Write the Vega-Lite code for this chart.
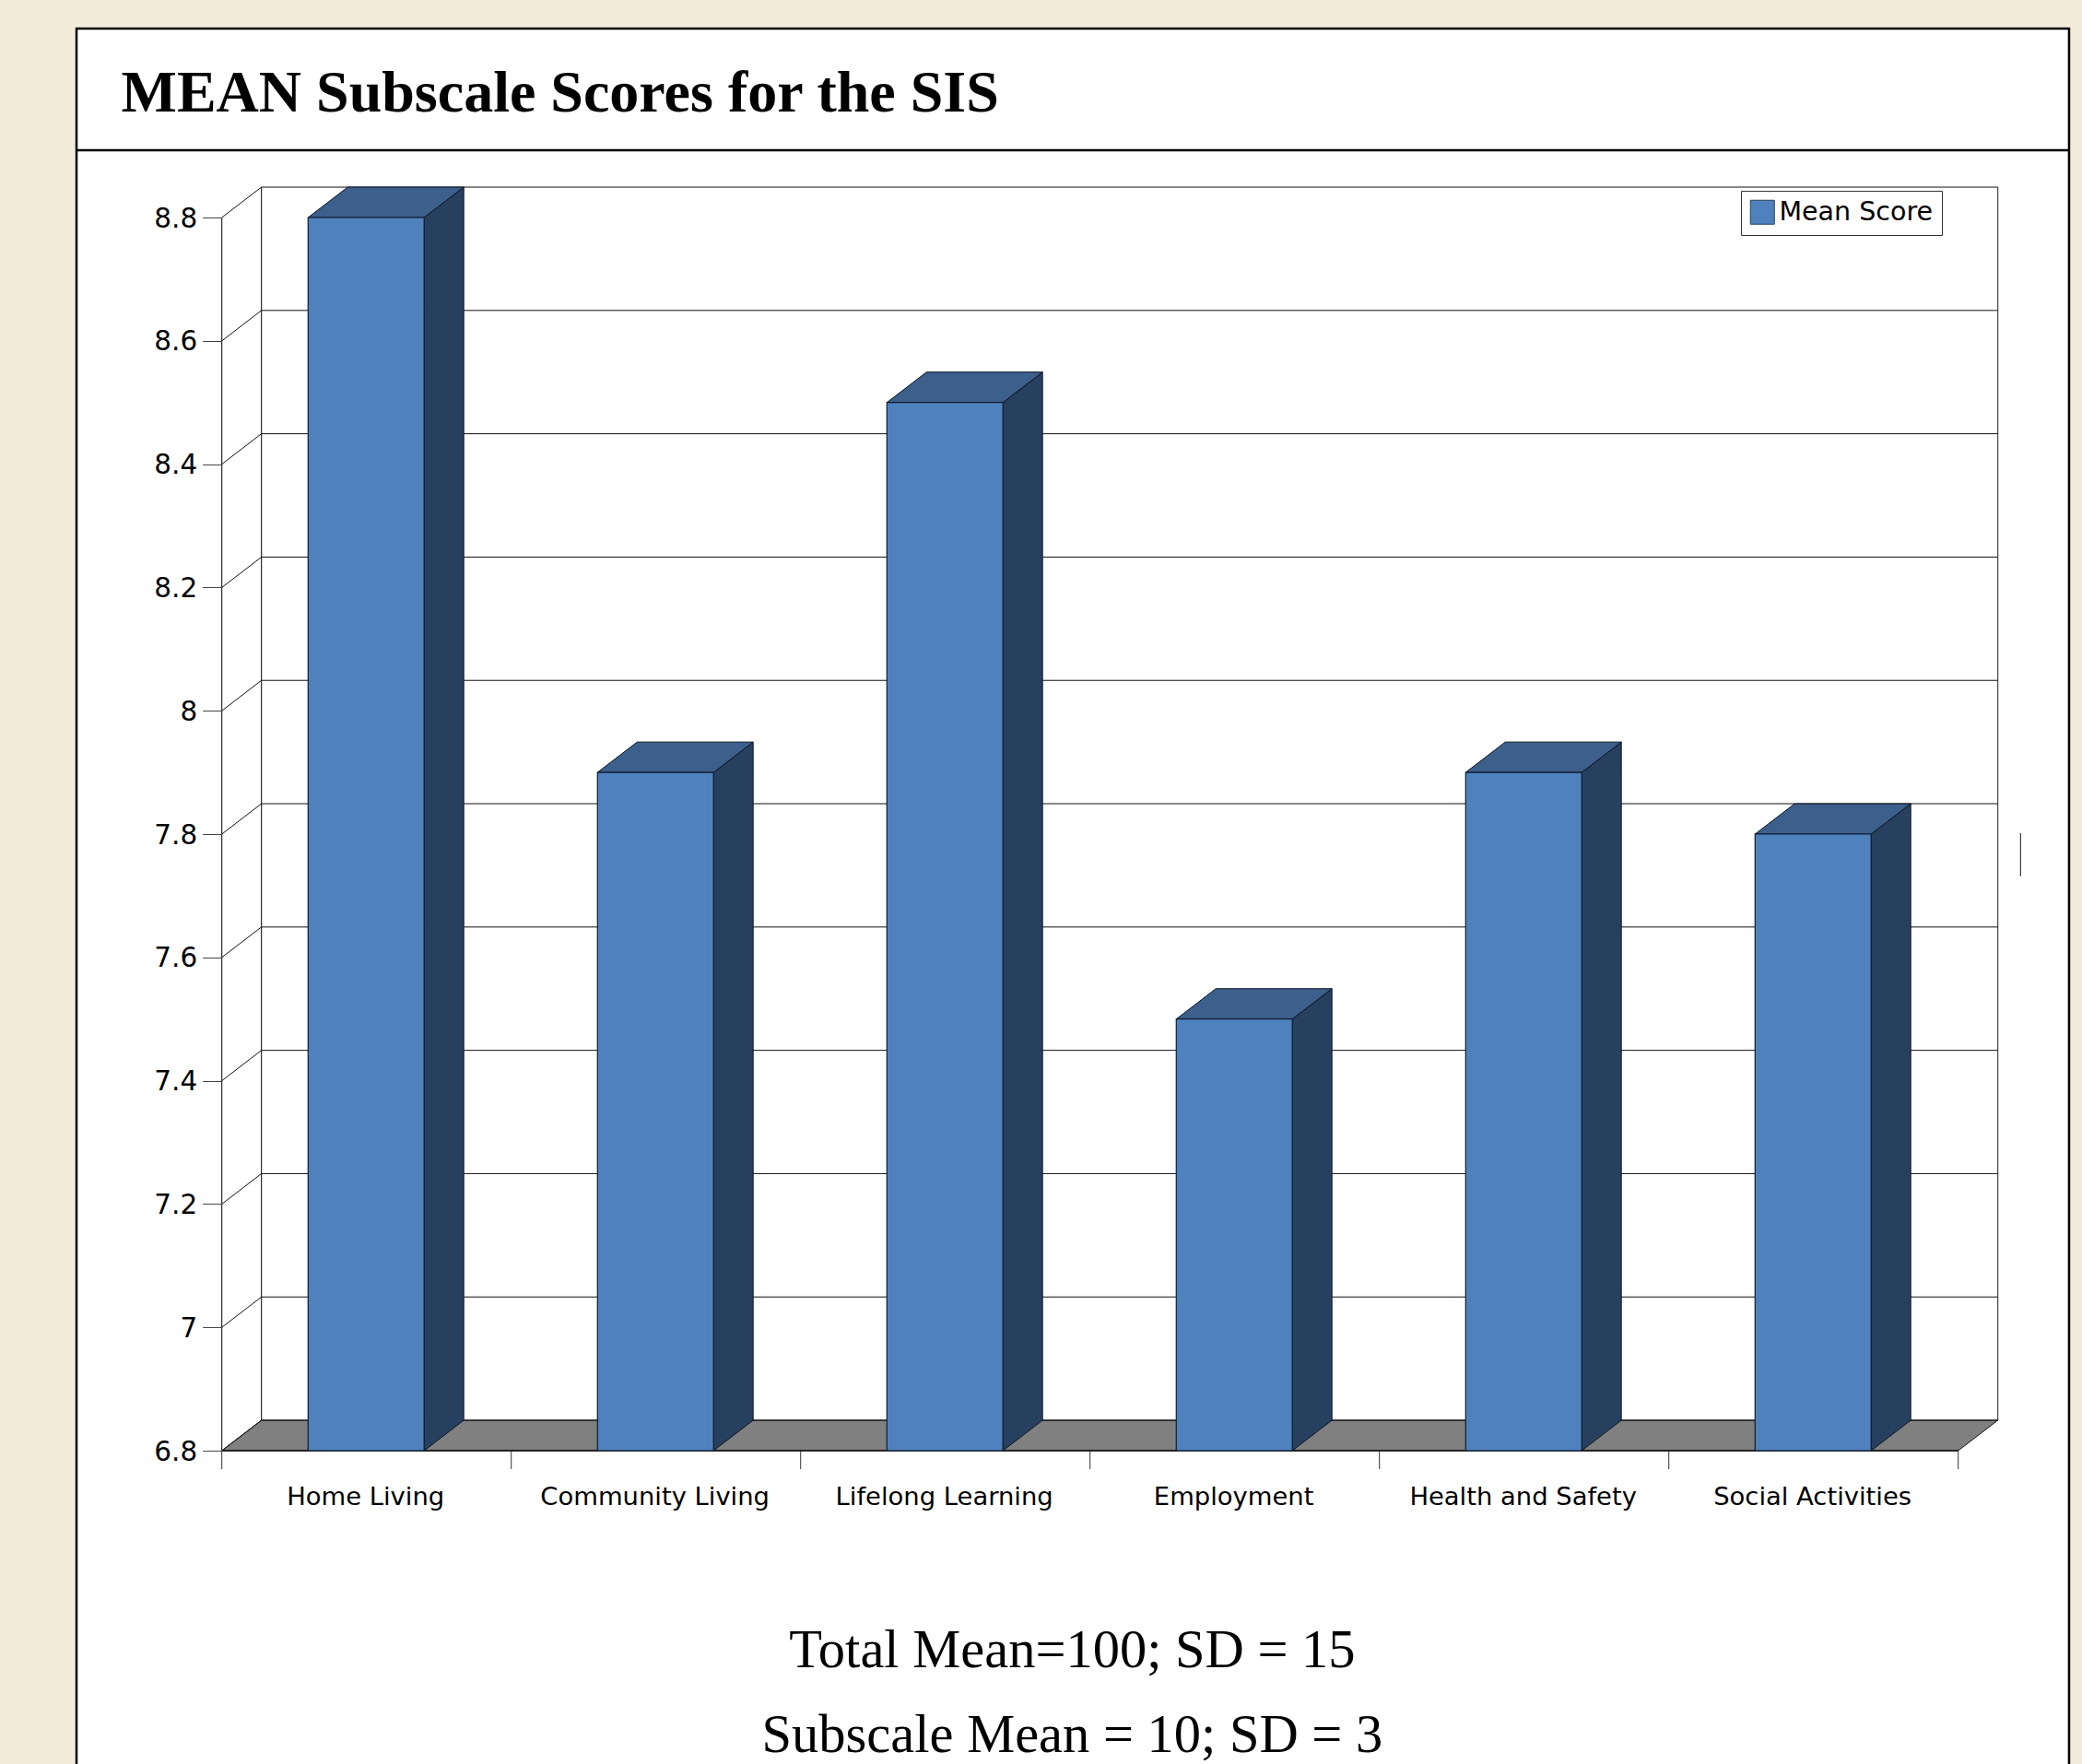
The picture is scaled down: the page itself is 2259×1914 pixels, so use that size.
{
"$schema":"https://vega.github.io/schema/vega-lite/v6.json",
"width":2259,"height":1914,"autosize":{"type":"none"},"padding":0,
"background":"#f3ecdb",
"title":{"text":"MEAN Subscale Scores for the SIS","anchor":"start","frame":"group","offset":-121.7,"dy":63,"dx":131.5,"font":"Liberation Serif","fontSize":64,"fontWeight":"bold","color":"#000000","baseline":"alphabetic"},
"config":{"view":{"stroke":null}},
"datasets":{
"bars":[
{"category":"Home Living","idx":0,"value":8.8,"series":"Mean Score"},
{"category":"Community Living","idx":1,"value":7.9,"series":"Mean Score"},
{"category":"Lifelong Learning","idx":2,"value":8.5,"series":"Mean Score"},
{"category":"Employment","idx":3,"value":7.5,"series":"Mean Score"},
{"category":"Health and Safety","idx":4,"value":7.9,"series":"Mean Score"},
{"category":"Social Activities","idx":5,"value":7.8,"series":"Mean Score"}],
"yticks":[{"tick":6.8},{"tick":7},{"tick":7.2},{"tick":7.4},{"tick":7.6},{"tick":7.8},{"tick":8},{"tick":8.2},{"tick":8.4},{"tick":8.6},{"tick":8.8}],
"xticks":[{"tick":0},{"tick":1},{"tick":2},{"tick":3},{"tick":4},{"tick":5},{"tick":6}],
"depth":[{"t":0},{"t":1}],
"one":[{}],
"notes":[{"line":"Total Mean=100; SD = 15","px":2.9385,"py":6.4482},{"line":"Subscale Mean = 10; SD = 3","px":2.9385,"py":6.3107}]
},
"layer":[
{"data":{"name":"one"},"mark":{"type":"rect","fill":"#ffffff","stroke":"#000000","strokeWidth":2.5,"clip":true},
 "encoding":{"x":{"datum":-0.5022,"type":"quantitative","scale":{"domain":[-0.7666,6.4277],"nice":false,"zero":false}},"x2":{"datum":6.383},
 "y":{"datum":9.1064,"type":"quantitative","scale":{"domain":[6.2918,9.1528],"nice":false,"zero":false}},"y2":{"datum":6.0}}},
{"data":{"name":"one"},"mark":{"type":"rule","stroke":"#000000","strokeWidth":2.5},
 "encoding":{"x":{"datum":-0.5022,"type":"quantitative","scale":{"domain":[-0.7666,6.4277],"nice":false,"zero":false}},"x2":{"datum":6.383},
 "y":{"datum":8.9091,"type":"quantitative","scale":{"domain":[6.2918,9.1528],"nice":false,"zero":false}}}},
{"data":{"name":"depth"},
 "transform":[{"calculate":"datum.t*0.1369","as":"xa"},{"calculate":"6+datum.t*0.1369","as":"xb"},{"calculate":"6.8+datum.t*0.0493","as":"yf"}],
 "mark":{"type":"area","orient":"horizontal","fill":"#808080","stroke":"#111111","strokeWidth":1},
 "encoding":{"y":{"field":"yf","type":"quantitative","scale":{"domain":[6.2918,9.1528],"nice":false,"zero":false}},
 "x":{"field":"xa","type":"quantitative","scale":{"domain":[-0.7666,6.4277],"nice":false,"zero":false}},"x2":{"field":"xb"}}},
{"data":{"name":"yticks"},
 "transform":[{"calculate":"datum.tick+0.0493","as":"back"}],
 "mark":{"type":"rule","stroke":"#111111","strokeWidth":1},
 "encoding":{"x":{"datum":0.1369,"type":"quantitative","scale":{"domain":[-0.7666,6.4277],"nice":false,"zero":false}},"x2":{"datum":6.1369},
 "y":{"field":"back","type":"quantitative","scale":{"domain":[6.2918,9.1528],"nice":false,"zero":false}}}},
{"data":{"name":"yticks"},
 "transform":[{"calculate":"datum.tick+0.0493","as":"back"}],
 "mark":{"type":"rule","stroke":"#111111","strokeWidth":1},
 "encoding":{"x":{"datum":0,"type":"quantitative","scale":{"domain":[-0.7666,6.4277],"nice":false,"zero":false}},"x2":{"datum":0.1369},
 "y":{"field":"tick","type":"quantitative","scale":{"domain":[6.2918,9.1528],"nice":false,"zero":false}},"y2":{"field":"back"}}},
{"data":{"name":"one"},"mark":{"type":"rule","stroke":"#000000","strokeWidth":1},
 "encoding":{"x":{"datum":0,"type":"quantitative","scale":{"domain":[-0.7666,6.4277],"nice":false,"zero":false}},
 "y":{"datum":6.8,"type":"quantitative","scale":{"domain":[6.2918,9.1528],"nice":false,"zero":false}},"y2":{"datum":8.8}}},
{"data":{"name":"one"},"mark":{"type":"rule","stroke":"#000000","strokeWidth":1},
 "encoding":{"x":{"datum":0.1369,"type":"quantitative","scale":{"domain":[-0.7666,6.4277],"nice":false,"zero":false}},
 "y":{"datum":6.8493,"type":"quantitative","scale":{"domain":[6.2918,9.1528],"nice":false,"zero":false}},"y2":{"datum":8.8493}}},
{"data":{"name":"one"},"mark":{"type":"rule","stroke":"#222222","strokeWidth":1},
 "encoding":{"x":{"datum":6.1369,"type":"quantitative","scale":{"domain":[-0.7666,6.4277],"nice":false,"zero":false}},
 "y":{"datum":6.8493,"type":"quantitative","scale":{"domain":[6.2918,9.1528],"nice":false,"zero":false}},"y2":{"datum":8.8493}}},
{"data":{"name":"xticks"},
 "mark":{"type":"rule","stroke":"#333333","strokeWidth":1},
 "encoding":{"x":{"field":"tick","type":"quantitative","scale":{"domain":[-0.7666,6.4277],"nice":false,"zero":false}},
 "y":{"datum":6.8,"type":"quantitative","scale":{"domain":[6.2918,9.1528],"nice":false,"zero":false}},"y2":{"datum":6.7701}}},
{"data":{"name":"one"},"mark":{"type":"rule","stroke":"#222222","strokeWidth":2},
 "encoding":{"x":{"datum":0,"type":"quantitative","scale":{"domain":[-0.7666,6.4277],"nice":false,"zero":false}},"x2":{"datum":6},
 "y":{"datum":6.8,"type":"quantitative","scale":{"domain":[6.2918,9.1528],"nice":false,"zero":false}}}},
{"data":{"name":"bars"},
 "transform":[{"calculate":"[0,1]","as":"t"},{"flatten":["t"]},{"calculate":"datum.idx+0.699+datum.t*0.1369","as":"xs"},{"calculate":"datum.value+datum.t*0.0493","as":"ytop"},{"calculate":"6.8+datum.t*0.0493","as":"ybase"}],
 "mark":{"type":"area","fill":"#284060","stroke":"#0c1420","strokeWidth":1},
 "encoding":{"x":{"field":"xs","type":"quantitative","scale":{"domain":[-0.7666,6.4277],"nice":false,"zero":false}},
 "y":{"field":"ytop","type":"quantitative","scale":{"domain":[6.2918,9.1528],"nice":false,"zero":false}},"y2":{"field":"ybase"},"detail":{"field":"category"}}},
{"data":{"name":"bars"},
 "transform":[{"calculate":"[0,1]","as":"t"},{"flatten":["t"]},{"calculate":"datum.idx+0.298+datum.t*0.1369","as":"xl"},{"calculate":"datum.idx+0.699+datum.t*0.1369","as":"xr"},{"calculate":"datum.value+datum.t*0.0493","as":"ytop"}],
 "mark":{"type":"area","orient":"horizontal","fill":"#3c5f8c","stroke":"#0c1420","strokeWidth":1},
 "encoding":{"y":{"field":"ytop","type":"quantitative","scale":{"domain":[6.2918,9.1528],"nice":false,"zero":false}},
 "x":{"field":"xl","type":"quantitative","scale":{"domain":[-0.7666,6.4277],"nice":false,"zero":false}},"x2":{"field":"xr"},"detail":{"field":"category"}}},
{"data":{"name":"bars"},
 "transform":[{"calculate":"datum.idx+0.298","as":"xl"},{"calculate":"datum.idx+0.699","as":"xr"},{"calculate":"6.8","as":"base"}],
 "mark":{"type":"rect","stroke":"#0f1c2e","strokeWidth":1.2},
 "encoding":{"x":{"field":"xl","type":"quantitative","scale":{"domain":[-0.7666,6.4277],"nice":false,"zero":false},
   "axis":{"orient":"bottom","title":null,"offset":-340,"zindex":1,"domain":false,"ticks":false,"grid":false,"values":[0.495,1.495,2.495,3.495,4.495,5.495],"labelExpr":"['Home Living','Community Living','Lifelong Learning','Employment','Health and Safety','Social Activities'][floor(datum.value)]","labelFont":"DejaVu Sans","labelFontSize":27.4,"labelColor":"#000000","labelPadding":36,"labelLimit":400,"labelOverlap":false,"labelFlush":false}},
 "x2":{"field":"xr"},
 "y":{"field":"value","type":"quantitative","scale":{"domain":[6.2918,9.1528],"nice":false,"zero":false},
   "axis":{"orient":"left","title":null,"offset":-240.7,"zindex":1,"domain":false,"grid":false,"values":[6.8,7,7.2,7.4,7.6,7.8,8,8.2,8.4,8.6,8.8],"format":".2~g","tickSize":21,"tickColor":"#444444","tickWidth":1,"labelFont":"DejaVu Sans","labelFontSize":29.5,"labelColor":"#000000","labelPadding":6,"labelOffset":1,"labelOverlap":false,"labelFlush":false}},
 "y2":{"field":"base"},
 "color":{"field":"series","type":"nominal","scale":{"range":["#4f81bd"]},
   "legend":{"orient":"none","legendX":1889,"legendY":207,"title":null,"symbolType":"square","symbolSize":676,"symbolStrokeColor":"#2a3f5c","symbolStrokeWidth":1,"symbolOpacity":1,"fillColor":"#ffffff","strokeColor":"#333333","padding":9,"labelFont":"DejaVu Sans","labelFontSize":28.5,"labelColor":"#000000","labelOffset":4,"labelLimit":400,"encoding":{"labels":{"update":{"dy":{"value":4}}}}}}}},
{"data":{"name":"notes"},
 "mark":{"type":"text","font":"Liberation Serif","fontSize":58.5,"color":"#000000","align":"center","baseline":"alphabetic"},
 "encoding":{"x":{"field":"px","type":"quantitative","scale":{"domain":[-0.7666,6.4277],"nice":false,"zero":false}},
 "y":{"field":"py","type":"quantitative","scale":{"domain":[6.2918,9.1528],"nice":false,"zero":false}},"text":{"field":"line"}}},
{"data":{"name":"one"},"mark":{"type":"rule","stroke":"#111111","strokeWidth":1},
 "encoding":{"x":{"datum":6.2153,"type":"quantitative","scale":{"domain":[-0.7666,6.4277],"nice":false,"zero":false}},
 "y":{"datum":7.8015,"type":"quantitative","scale":{"domain":[6.2918,9.1528],"nice":false,"zero":false}},"y2":{"datum":7.7317}}}
]
}
